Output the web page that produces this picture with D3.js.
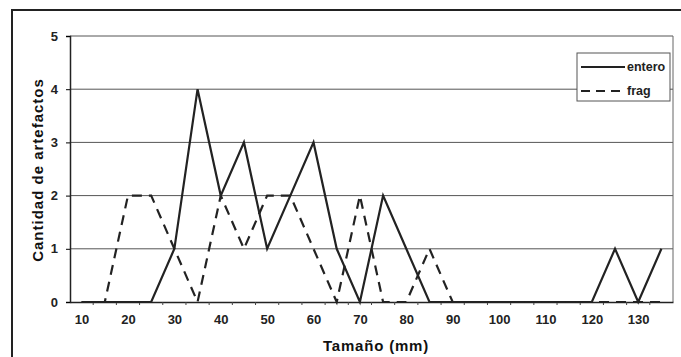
<!DOCTYPE html>
<html><head><meta charset="utf-8">
<script src="https://cdn.jsdelivr.net/npm/d3@7"></script>
<style>
html,body{margin:0;padding:0;background:#fff;}
svg{display:block;font-family:"Liberation Sans",Arial,sans-serif;}
</style></head>
<body><svg id="c" width="681" height="357"></svg>
<script>
const sizes = [10,15,20,25,30,35,40,45,50,55,60,65,70,75,80,85,90,95,100,105,110,115,120,125,130,135];
const entero = [0,0,0,0,1,4,2,3,1,2,3,1,0,2,1,0,0,0,0,0,0,0,0,1,0,1];
const frag   = [0,0,2,2,1,0,2,1,2,2,1,0,2,0,0,1,0,0,0,0,0,0,0,0,0,0];
const yTicks = [0,1,2,3,4,5];
const xTickLabels = [10,20,30,40,50,60,70,80,90,100,110,120,130];
const seriesNames = ["entero","frag"];

const svg = d3.select("#c");
const L=70, R=673, T=36, B=302;

// outer frame
svg.append("path").attr("d","M12,360 L12,10 L690,10").attr("fill","none").attr("stroke","#222").attr("stroke-width",2);

const x = d3.scalePoint().domain(sizes).range([L,R]).padding(0.5);
const y = d3.scaleLinear().domain([0,5]).range([B,T]);

// grid
svg.append("g").selectAll("line").data(yTicks.filter(d=>d>0)).join("line")
  .attr("x1",L).attr("x2",R).attr("y1",d=>y(d)).attr("y2",d=>y(d))
  .attr("stroke","#555").attr("stroke-width",1);
// right border
svg.append("line").attr("x1",R).attr("x2",R).attr("y1",T).attr("y2",B).attr("stroke","#666");

// y axis
const ya = svg.append("g").attr("transform",`translate(${L},0)`)
  .call(d3.axisLeft(y).tickValues(yTicks).tickSize(4).tickPadding(8).tickFormat(d3.format("d")));
ya.select(".domain").attr("stroke","#222").attr("stroke-width",1.5);
ya.selectAll("text").attr("font-size",13).attr("font-weight","bold").attr("fill","#222");

// x axis
const xa = svg.append("g").attr("transform",`translate(0,${B})`)
  .call(d3.axisBottom(x).tickValues(xTickLabels).tickSize(0).tickPadding(13));
xa.select(".domain").attr("stroke","#222").attr("stroke-width",1.5);
xa.selectAll("text").attr("font-size",13).attr("font-weight","bold").attr("fill","#222");
svg.append("g").selectAll("line").data(sizes.slice(1)).join("line")
  .attr("x1",d=>x(d)-x.step()/2).attr("x2",d=>x(d)-x.step()/2)
  .attr("y1",B).attr("y2",B+3).attr("stroke","#444");

// axis titles
svg.append("text").attr("x",376).attr("y",351).attr("text-anchor","middle")
  .attr("font-size",15).attr("font-weight","bold").attr("letter-spacing",0.8).attr("fill","#111").text("Tamaño (mm)");
svg.append("text").attr("transform","translate(43,170) rotate(-90)").attr("text-anchor","middle")
  .attr("font-size",15).attr("font-weight","bold").attr("letter-spacing",1).attr("fill","#111").text("Cantidad de artefactos");

// lines
const line = d3.line().x((d,i)=>x(sizes[i])).y(d=>y(d));
svg.append("path").datum(entero).attr("d",line).attr("fill","none")
  .attr("stroke","#222").attr("stroke-width",2.2);
svg.append("path").datum(frag).attr("d",line).attr("fill","none")
  .attr("stroke","#222").attr("stroke-width",2.2).attr("stroke-dasharray","10,7");

// legend
const lg = svg.append("g");
lg.append("rect").attr("x",577).attr("y",53).attr("width",93).attr("height",48)
  .attr("fill","#fff").attr("stroke","#555");
const dashes=[null,"9,6"];
seriesNames.forEach((n,i)=>{
  const yy = 67 + i*24;
  lg.append("line").attr("x1",581).attr("x2",625).attr("y1",yy).attr("y2",yy)
    .attr("stroke","#222").attr("stroke-width",2).attr("stroke-dasharray",dashes[i]);
  lg.append("text").attr("x",627).attr("y",yy+4).attr("font-size",12.5).attr("font-weight","bold")
    .attr("fill","#222").text(n);
});
</script></body></html>
